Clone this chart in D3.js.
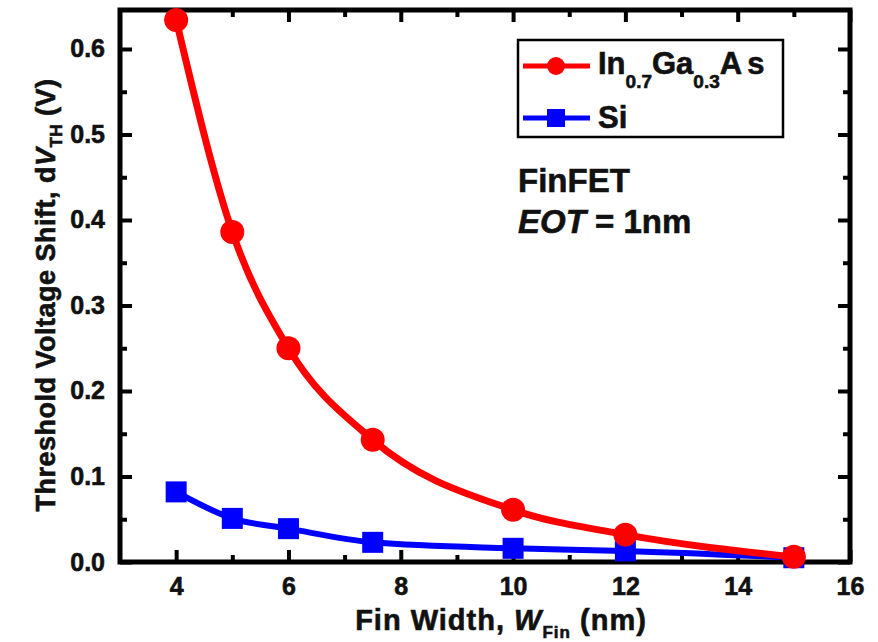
<!DOCTYPE html>
<html><head><meta charset="utf-8">
<script src="https://cdn.jsdelivr.net/npm/d3@7"></script>
<style>body{margin:0;background:#fff}svg{display:block}text{font-family:"Liberation Sans",Arial,sans-serif;font-weight:bold;stroke:#111;stroke-width:0.6px}</style>
</head><body>
<svg id="c" width="878" height="642"></svg>
<script>
const finWidth = [4, 5, 6, 7.5, 10, 12, 15];
const ingaasShift = [0.634, 0.386, 0.250, 0.143, 0.061, 0.032, 0.006];
const siShift = [0.082, 0.051, 0.039, 0.023, 0.016, 0.013, 0.005];
const xTicks = [4, 6, 8, 10, 12, 14, 16];
const yTicks = [0.0, 0.1, 0.2, 0.3, 0.4, 0.5, 0.6];

(function(){
const svg = d3.select("#c");
const L = 120, R = 850, T = 10, B = 562;
const x = d3.scaleLinear().domain([3, 16]).range([L, R]);
const y = d3.scaleLinear().domain([0, 0.6456]).range([B, T]);

const fmt = d3.format(".1f");
const xMinor = [5,7,9,11,13,15];
const yMinor = [0.05,0.15,0.25,0.35,0.45,0.55];
const gs = [];
gs.push(svg.append("g").attr("transform", `translate(0,${B})`)
  .call(d3.axisBottom(x).tickValues(xTicks).tickSize(-12).tickPadding(15).tickFormat(d3.format("d"))));
gs.push(svg.append("g").attr("transform", `translate(0,${B})`)
  .call(d3.axisBottom(x).tickValues(xMinor).tickSize(-7).tickFormat("")));
gs.push(svg.append("g").attr("transform", `translate(0,${T})`)
  .call(d3.axisTop(x).tickValues(xTicks).tickSize(-12).tickFormat("")));
gs.push(svg.append("g").attr("transform", `translate(0,${T})`)
  .call(d3.axisTop(x).tickValues(xMinor).tickSize(-7).tickFormat("")));
gs.push(svg.append("g").attr("transform", `translate(${L},0)`)
  .call(d3.axisLeft(y).tickValues(yTicks).tickSize(-12).tickPadding(15).tickFormat(fmt)));
gs.push(svg.append("g").attr("transform", `translate(${L},0)`)
  .call(d3.axisLeft(y).tickValues(yMinor).tickSize(-7).tickFormat("")));
gs.push(svg.append("g").attr("transform", `translate(${R},0)`)
  .call(d3.axisRight(y).tickValues(yTicks).tickSize(-12).tickFormat("")));
gs.push(svg.append("g").attr("transform", `translate(${R},0)`)
  .call(d3.axisRight(y).tickValues(yMinor).tickSize(-7).tickFormat("")));
gs.forEach(g=>{
  g.select(".domain").remove();
  g.selectAll(".tick line").attr("stroke","#000").attr("stroke-width",4);
  g.selectAll(".tick text").attr("fill","#111").style("font-size","25px").style("font-weight","bold")
    .style("font-family","'Liberation Sans',Arial,sans-serif").style("stroke","#111").style("stroke-width","0.6px");
});
svg.append("rect").attr("x",L).attr("y",T).attr("width",R-L).attr("height",B-T)
  .attr("fill","none").attr("stroke","#000").attr("stroke-width",5);

const sBlue = finWidth.map((d,i)=>[d, siShift[i]]);
const sRed = finWidth.map((d,i)=>[d, ingaasShift[i]]);
const line = d3.line().x(d=>x(d[0])).y(d=>y(d[1])).curve(d3.curveMonotoneX);
svg.append("path").datum(sBlue).attr("d",line).attr("fill","none").attr("stroke","#0000ff").attr("stroke-width",6);
svg.selectAll(".sq").data(sBlue).enter().append("rect")
  .attr("x",d=>x(d[0])-10.5).attr("y",d=>y(d[1])-10.5).attr("width",21).attr("height",21).attr("fill","#0000ff");
svg.append("path").datum(sRed).attr("d",line).attr("fill","none").attr("stroke","#ff0000").attr("stroke-width",7);
svg.selectAll(".ci").data(sRed).enter().append("circle")
  .attr("cx",d=>x(d[0])).attr("cy",d=>y(d[1])).attr("r",12).attr("fill","#ff0000");

svg.append("rect").attr("x",518).attr("y",40).attr("width",265).attr("height",97)
  .attr("fill","#fff").attr("stroke","#000").attr("stroke-width",2.5);
svg.append("line").attr("x1",523).attr("x2",590).attr("y1",66).attr("y2",66).attr("stroke","#ff0000").attr("stroke-width",5);
svg.append("circle").attr("cx",556).attr("cy",66).attr("r",9).attr("fill","#ff0000");
svg.append("line").attr("x1",523).attr("x2",590).attr("y1",118).attr("y2",118).attr("stroke","#0000ff").attr("stroke-width",5);
svg.append("rect").attr("x",547).attr("y",109).attr("width",18).attr("height",18).attr("fill","#0000ff");
const lt = svg.append("text").attr("x",598).attr("y",74).attr("fill","#111").style("font-size","31px");
lt.append("tspan").text("In");
lt.append("tspan").attr("dy",14).style("font-size","19px").text("0.7");
lt.append("tspan").attr("dy",-14).text("Ga");
lt.append("tspan").attr("dy",14).style("font-size","19px").text("0.3");
lt.append("tspan").attr("dy",-14).text("A");
lt.append("tspan").attr("dx",5).text("s");
svg.append("text").attr("x",598).attr("y",128).attr("fill","#111").style("font-size","31px").text("Si");

svg.append("text").attr("x",518).attr("y",192).attr("fill","#111").style("font-size","33px").text("FinFET");
const eot = svg.append("text").attr("x",518).attr("y",233).attr("fill","#111").style("font-size","33px");
eot.append("tspan").style("font-style","italic").text("EOT");
eot.append("tspan").text(" = 1nm");

const xt = svg.append("text").attr("x",501).attr("y",630).attr("text-anchor","middle").attr("fill","#111")
  .style("font-size","29px").style("letter-spacing","1px");
xt.append("tspan").text("Fin Width, ");
xt.append("tspan").style("font-style","italic").text("W");
xt.append("tspan").attr("dy",8).style("font-size","17px").text("Fin");
xt.append("tspan").attr("dy",-8).text(" (nm)");
const yt = svg.append("text").attr("transform","translate(55,295) rotate(-90)").attr("text-anchor","middle").attr("fill","#111")
  .style("font-size","27px").style("letter-spacing","0.5px");
yt.append("tspan").text("Threshold Voltage Shift, d");
yt.append("tspan").style("font-style","italic").text("V");
yt.append("tspan").attr("dy",7).style("font-size","17px").text("TH");
yt.append("tspan").attr("dy",-7).text(" (V)");
})();
</script>
</body></html>
